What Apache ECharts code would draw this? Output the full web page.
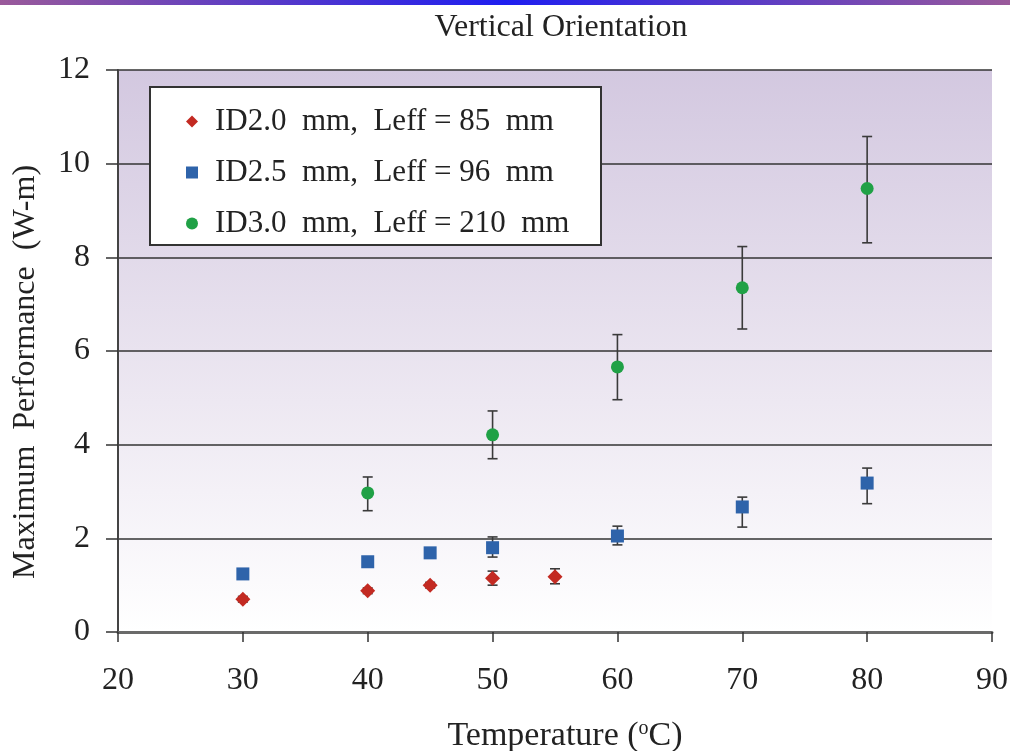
<!DOCTYPE html>
<html>
<head>
<meta charset="utf-8">
<script src="https://cdn.jsdelivr.net/npm/echarts@6/dist/echarts.min.js"></script>
<style>
  html, body { margin: 0; padding: 0; background: #fff; }
  #main { width: 1010px; height: 751px; }
</style>
</head>
<body>
<div id="main"></div>
<script>
// temperatures (C) and max performance (W-m), with error bar ends
var id20Temp = [30, 40, 45, 50, 55];
var id20Val  = [0.70, 0.88, 1.00, 1.15, 1.18];
var id20Low  = [0.64, 0.82, 0.94, 1.00, 1.03];
var id20High = [0.76, 0.94, 1.06, 1.30, 1.35];

var id25Temp = [30, 40, 45, 50, 60, 70, 80];
var id25Val  = [1.24, 1.50, 1.69, 1.80, 2.05, 2.67, 3.18];
var id25Low  = [1.14, 1.40, 1.59, 1.60, 1.86, 2.24, 2.74];
var id25High = [1.34, 1.60, 1.79, 2.03, 2.26, 2.88, 3.50];

var id30Temp = [40, 50, 60, 70, 80];
var id30Val  = [2.97, 4.21, 5.66, 7.35, 9.47];
var id30Low  = [2.59, 3.70, 4.96, 6.47, 8.31];
var id30High = [3.31, 4.72, 6.35, 8.23, 10.58];

var seriesNames = [
  "ID2.0  mm,  Leff = 85  mm",
  "ID2.5  mm,  Leff = 96  mm",
  "ID3.0  mm,  Leff = 210  mm"
];

var myChart = echarts.init(document.getElementById("main"));
var serif = "Liberation Serif";

function pts(t, v) {
  return t.map(function (x, i) { return [x, v[i]]; });
}
function bars(t, lo, hi) {
  return t.map(function (x, i) { return [x, lo[i], hi[i]]; });
}

function errorSeries(data) {
  return {
    type: "custom",
    silent: true,
    z: 3,
    data: data,
    renderItem: function (params, api) {
      var top = api.coord([api.value(0), api.value(2)]);
      var bot = api.coord([api.value(0), api.value(1)]);
      var w = 5;
      var st = { stroke: "#3a3a3a", lineWidth: 1.6 };
      return {
        type: "group",
        children: [
          { type: "line", shape: { x1: top[0], y1: top[1], x2: bot[0], y2: bot[1] }, style: st },
          { type: "line", shape: { x1: top[0] - w, y1: top[1], x2: top[0] + w, y2: top[1] }, style: st },
          { type: "line", shape: { x1: bot[0] - w, y1: bot[1], x2: bot[0] + w, y2: bot[1] }, style: st }
        ]
      };
    }
  };
}

var option = {
  animation: false,
  backgroundColor: "#fff",
  title: {
    text: "Vertical Orientation",
    left: 556,
    textAlign: "center",
    top: 7,
    textStyle: { fontFamily: serif, fontWeight: "normal", fontSize: 32, color: "#222" }
  },
  graphic: [
    {
      type: "rect",
      shape: { x: 0, y: 0, width: 1010, height: 5 },
      style: {
        fill: new echarts.graphic.LinearGradient(0, 0, 1, 0, [
          { offset: 0, color: "#9a5a9a" },
          { offset: 0.5, color: "#1e1ef0" },
          { offset: 1, color: "#9a5a9a" }
        ])
      }
    },
    {
      type: "rect",
      z: 10,
      shape: { x: 150, y: 87, width: 451, height: 158 },
      style: { fill: "#fff", stroke: "#333", lineWidth: 2 }
    }
  ],
  legend: {
    z: 11,
    left: 181,
    top: 101,
    orient: "vertical",
    itemGap: 20,
    itemWidth: 12,
    itemHeight: 12,
    textStyle: { fontFamily: serif, fontSize: 31, color: "#222", padding: [0, 0, 0, 12] },
    data: seriesNames
  },
  grid: {
    left: 118,
    right: 18,
    top: 70,
    bottom: 119,
    outerBoundsMode: "none",
    containLabel: false,
    show: true,
    borderWidth: 0,
    backgroundColor: new echarts.graphic.LinearGradient(0, 0, 0, 1, [
      { offset: 0, color: "#d3c8e0" },
      { offset: 0.5, color: "#e9e3ef" },
      { offset: 1, color: "#ffffff" }
    ])
  },
  xAxis: {
    type: "value",
    min: 20,
    max: 90,
    interval: 10,
    name: "{t|Temperature (}{s|o}{t|C)}",
    nameLocation: "middle",
    nameGap: 87,
    nameTextStyle: {
      padding: [0, 0, 0, 20],
      rich: {
        t: { fontFamily: serif, fontSize: 34, color: "#222" },
        s: { fontFamily: serif, fontSize: 20, color: "#222", verticalAlign: "top", padding: [0, 0, 13, 0] }
      }
    },
    axisLine: { show: true, onZero: false, lineStyle: { color: "#6a6a6a", width: 3 } },
    axisTick: { show: true, inside: false, length: 10, lineStyle: { color: "#333", width: 1.5 } },
    axisLabel: { fontFamily: serif, fontSize: 32, color: "#222", margin: 33 },
    splitLine: { show: false }
  },
  yAxis: {
    type: "value",
    min: 0,
    max: 12,
    interval: 2,
    name: "Maximum  Performance  (W-m)",
    nameLocation: "middle",
    nameGap: 76,
    nameTextStyle: { fontFamily: serif, fontSize: 32, color: "#222", padding: [0, 42, 0, 0] },
    axisLine: { show: true, lineStyle: { color: "#444", width: 2 } },
    axisTick: { show: true, inside: false, length: 12, lineStyle: { color: "#333", width: 1.5 } },
    axisLabel: { fontFamily: serif, fontSize: 32, color: "#222", margin: 28 },
    splitLine: { show: true, lineStyle: { color: "#333", width: 1.6 } }
  },
  series: [
    errorSeries(bars(id20Temp, id20Low, id20High)),
    errorSeries(bars(id25Temp, id25Low, id25High)),
    errorSeries(bars(id30Temp, id30Low, id30High)),
    {
      name: seriesNames[0],
      type: "scatter",
      z: 4,
      symbol: "diamond",
      symbolSize: 15,
      itemStyle: { color: "#c32a22", opacity: 1 },
      data: pts(id20Temp, id20Val)
    },
    {
      name: seriesNames[1],
      type: "scatter",
      z: 4,
      symbol: "rect",
      symbolSize: 13,
      itemStyle: { color: "#2e63aa", opacity: 1 },
      data: pts(id25Temp, id25Val)
    },
    {
      name: seriesNames[2],
      type: "scatter",
      z: 4,
      symbol: "circle",
      symbolSize: 13,
      itemStyle: { color: "#20a146", opacity: 1 },
      data: pts(id30Temp, id30Val)
    }
  ]
};

myChart.setOption(option);
</script>
</body>
</html>
